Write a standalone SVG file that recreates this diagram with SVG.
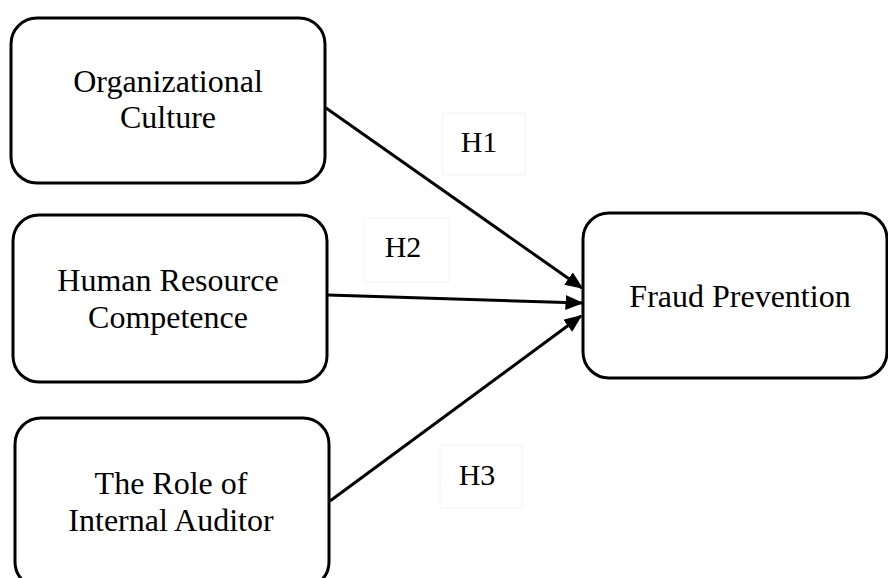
<svg xmlns="http://www.w3.org/2000/svg" width="888" height="578" viewBox="0 0 888 578">
<style>
.box{fill:#fff;stroke:#000;stroke-width:3}
.t{font-family:"Liberation Serif","Times New Roman",serif;font-size:32px;fill:#000;text-anchor:middle}
.lbl{font-family:"Liberation Serif","Times New Roman",serif;font-size:30px;fill:#000;text-anchor:middle}
.lb{fill:none;stroke:#f3f3f3;stroke-width:1}
.c{stroke:#000;stroke-width:3;fill:none;marker-end:url(#ah)}
</style>
<defs>
<marker id="ah" markerWidth="6" markerHeight="5" refX="5.5" refY="2.5" orient="auto" markerUnits="strokeWidth">
<path d="M0,0 L6,2.5 L0,5 Z" fill="#000"/>
</marker>
</defs>
<rect width="888" height="578" fill="#fff"/>
<g id="labels">
<rect class="lb" x="442" y="113" width="83" height="62"/>
<rect class="lb" x="364" y="218" width="85" height="64"/>
<rect class="lb" x="440" y="445" width="82" height="63"/>
<text class="lbl" x="479" y="152">H1</text>
<text class="lbl" x="403" y="257">H2</text>
<text class="lbl" x="477" y="485">H3</text>
</g>
<g id="connectors">
<line class="c" x1="326" y1="108" x2="582" y2="288"/>
<line class="c" x1="328" y1="295" x2="582" y2="303"/>
<line class="c" x1="330" y1="501" x2="581" y2="316"/>
</g>
<g id="n1">
<rect class="box" x="11" y="18" width="314" height="165" rx="26" ry="26"/>
<text class="t" x="168" y="92">Organizational</text>
<text class="t" x="168" y="128">Culture</text>
</g>
<g id="n2">
<rect class="box" x="13" y="215" width="314" height="167" rx="26" ry="26"/>
<text class="t" x="168" y="291">Human Resource</text>
<text class="t" x="168" y="328">Competence</text>
</g>
<g id="n3">
<rect class="box" x="15" y="418" width="314" height="170" rx="26" ry="26"/>
<text class="t" x="171" y="494">The Role of</text>
<text class="t" x="171" y="531">Internal Auditor</text>
</g>
<g id="n4">
<rect class="box" x="583" y="213" width="304" height="165" rx="26" ry="26"/>
<text class="t" x="740" y="307">Fraud Prevention</text>
</g>
</svg>
